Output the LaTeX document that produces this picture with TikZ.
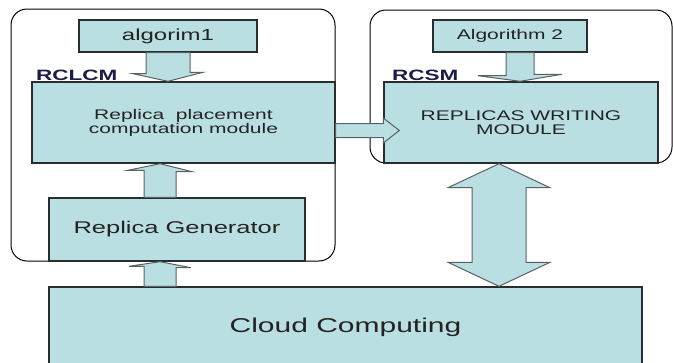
\documentclass[tikz,border=0pt]{standalone}
\usepackage{fontspec}
\usetikzlibrary{calc}
\newfontfamily\diagfont[FakeStretch=1.5]{Liberation Sans}
\definecolor{boxfill}{RGB}{186,223,227}
\definecolor{boxline}{RGB}{40,46,46}
\definecolor{arrline}{RGB}{88,98,98}
\definecolor{navy}{RGB}{28,28,72}
\definecolor{txtgray}{RGB}{35,35,35}

\begin{document}
\begin{tikzpicture}[x=1pt, y=-1pt,
    box/.style = {draw=boxline, line width=1.4pt, fill=boxfill, inner sep=0pt, text=txtgray, align=center},
    group/.style = {draw=black, line width=1pt, rounded corners=16pt},
    blockarr/.style = {draw=arrline, line width=1pt, fill=boxfill, line join=miter},
    tag/.style = {font=\diagfont\bfseries\fontsize{15}{16}\selectfont, text=navy, inner sep=0pt, anchor=west}]

    \useasboundingbox (0,0) rectangle (673,362);

    \draw[group] (11,9) rectangle (335,261);
    \draw[group] (370,10) rectangle (672,163);

    \node[box, minimum width=178, minimum height=32, font=\diagfont\fontsize{16}{17}\selectfont] (alg1) at (168,36) {algorim1};
    \node[box, minimum width=303, minimum height=81, font=\diagfont\fontsize{14}{14}\selectfont] (rp) at (183.5,122.5) {Replica~ placement\\computation module};
    \node[box, minimum width=256, minimum height=63, font=\diagfont\fontsize{17}{18}\selectfont] (rg) at (177,229.5) {Replica Generator};
    \node[box, minimum width=154, minimum height=32, font=\diagfont\fontsize{14}{15}\selectfont] (alg2) at (510,36) {Algorithm 2};
    \node[box, minimum width=274, minimum height=81, font=\diagfont\fontsize{14}{14}\selectfont] (rw) at (521,122.5) {REPLICAS WRITING\\MODULE};
    \node[box, minimum width=593, minimum height=80, font=\diagfont\fontsize{20}{21}\selectfont] (cloud) at (345.5,327) {Cloud Computing};

    \node[tag] (rclcm) at (36,75) {RCLCM};
    \node[tag] (rcsm) at (392,75) {RCSM};

    \draw[blockarr] ($(alg1.south)+(-22,0)$) -- ++(0,21) -- ++(-13,0) -- (rp.north -| alg1.south)
        -- ++(35,-9) -- ++(-13,0) -- ($(alg1.south)+(22,0)$) -- cycle;

    \coordinate (b1) at ($(alg2.south)+(10,0)$);
    \draw[blockarr] ($(b1)+(-14,0)$) -- ++(0,23) -- ++(-28,0) -- (rw.north -| b1)
        -- ++(42,-7) -- ++(-28,0) -- ($(b1)+(14,0)$) -- cycle;

    \coordinate (c1) at ($(rg.north)+(-17,0)$);
    \draw[blockarr] ($(c1)+(-16,0)$) -- ++(0,-27) -- ++(-16,0) -- (rp.south -| c1)
        -- ++(32,8) -- ++(-16,0) -- ($(c1)+(16,0)$) -- cycle;

    \coordinate (c2) at (cloud.north -| c1);
    \draw[blockarr] ($(c2)+(-16,0)$) -- ++(0,-20) -- ++(-15,0) -- (rg.south -| c1)
        -- ++(31,6) -- ++(-15,0) -- ($(c2)+(16,0)$) -- cycle;

    \coordinate (e1) at ($(rp.east)+(0,8)$);
    \coordinate (e2) at ($(rw.west |- e1)+(16,0)$);
    \draw[blockarr] ($(e1)+(0,-7)$) -- ($(e2)+(-16,-7)$) -- ++(0,-5.5) -- (e2)
        -- ++(-16,12.5) -- ++(0,-5.5) -- ($(e1)+(0,7)$) -- cycle;

    \coordinate (f1) at ($(rw.south)+(-22,0)$);
    \coordinate (f2) at (cloud.north -| f1);
    \draw[blockarr] (f1) -- ++(51,24) -- ++(-24,0) -- ($(f2)+(27,-24)$) -- ++(24,0) -- (f2)
        -- ++(-51,-24) -- ++(24,0) -- ($(f1)+(-27,24)$) -- ++(-24,0) -- cycle;

\end{tikzpicture}
\end{document}
